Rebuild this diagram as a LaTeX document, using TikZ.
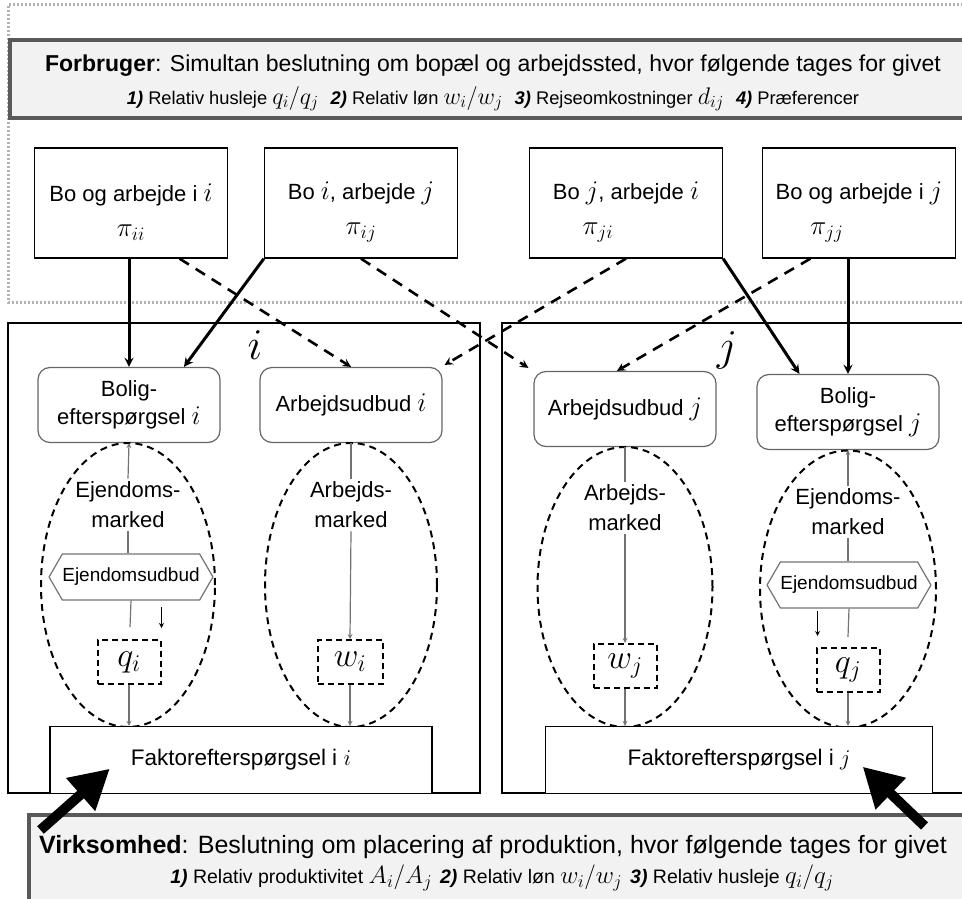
\RequirePackage{fix-cm}
\documentclass[tikz,border=0pt]{standalone}
\usepackage{fontspec}
\setmainfont{Liberation Sans}
\usetikzlibrary{calc,positioning,shapes,arrows}
\DeclareMathSizes{22}{27}{19}{14}
\DeclareMathSizes{26}{34}{24}{17}
\DeclareMathSizes{18.3}{24}{17}{12}
\DeclareMathSizes{19.5}{25}{18}{13}
\tikzstyle{choice}=[shape=rectangle, draw, line width=1.3pt, minimum width=193pt, minimum height=110pt, inner sep=0pt]
\tikzstyle{choicetxt}=[align=center, inner sep=0pt, font=\fontsize{22}{35}\selectfont]
\tikzstyle{side}=[shape=rectangle, rounded corners=12pt, draw=black!60, line width=1.2pt, minimum width=182pt, minimum height=75pt, inner sep=0pt, align=center, font=\fontsize{22}{28}\selectfont]
\tikzstyle{mkt}=[shape=ellipse, draw, dash pattern=on 7pt off 5pt, line width=2pt, inner sep=0pt]
\tikzstyle{mkttxt}=[align=center, inner sep=3pt, font=\fontsize{22}{30}\selectfont]
\tikzstyle{supply}=[shape=signal, signal to=west and east, signal pointer angle=120, draw=black!55, line width=1.2pt, fill=white, minimum width=162pt, minimum height=46pt, inner sep=0pt, font=\fontsize{19}{20}\selectfont]
\tikzstyle{price}=[shape=rectangle, draw, dash pattern=on 6pt off 4pt, line width=2pt, minimum width=63pt, minimum height=44pt, inner sep=0pt, font=\fontsize{26}{26}\selectfont]
\tikzstyle{firm}=[shape=rectangle, draw, line width=1.3pt, fill=white, minimum height=67pt, inner sep=0pt, font=\fontsize{22.5}{26}\selectfont]
\tikzstyle{region}=[shape=rectangle, draw, line width=1.3pt, minimum height=470pt, inner sep=0pt]
\tikzstyle{given}=[shape=rectangle, draw=black!65, fill=black!5, line width=4pt, inner sep=0pt]
\tikzstyle{mktln}=[draw=black!55, line width=1.2pt]
\tikzstyle{live}=[line width=3pt, -stealth]
\tikzstyle{alt}=[line width=2.6pt, dash pattern=on 11pt off 8pt, -stealth]

\begin{document}
\begin{tikzpicture}[x=1pt,y=-1pt]
\useasboundingbox (0,0) rectangle (962,899);

% forbruger
\draw[gray!60, line width=3pt, dash pattern=on 2pt off 2pt] (975,5) -- (8,5) -- (8,302) -- (975,302);
\node (forb) [given, minimum width=965pt, minimum height=78pt] at (492,79) {};
\node (forbtxt) [align=center] at (493,83)
  {{\fontsize{23}{23}\selectfont\textbf{Forbruger}: Simultan beslutning om bopæl og arbejdssted, hvor følgende tages for givet}\\[9pt]
   {\fontsize{18.3}{19}\selectfont\textbf{\textit{1)}} Relativ husleje $q_i/q_j$\hspace{12pt}\textbf{\textit{2)}} Relativ løn $w_i/w_j$\hspace{12pt}\textbf{\textit{3)}} Rejseomkostninger $d_{ij}$\hspace{12pt}\textbf{\textit{4)}} Præferencer}};

\node (ii) [choice] at (131,203) {};
\node (ij) [choice] at (361,203) {};
\node (ji) [choice] at (626,203) {};
\node (jj) [choice] at (859,203) {};
\node (iit) [choicetxt] at (131,212) {Bo og arbejde i $i$\\$\pi_{ii}$};
\node (ijt) [choicetxt] at (361,212) {Bo $i$, arbejde $j$\\$\pi_{ij}$};
\node (jit) [choicetxt] at (626,212) {Bo $j$, arbejde $i$\\\hspace*{-56pt}$\pi_{ji}$};
\node (jjt) [choicetxt] at (859,212) {Bo og arbejde i $j$\\\hspace*{-64pt}$\pi_{jj}$};

% regioner
\node (regi) [region, minimum width=472pt] at (244,558) {};
\node (regj) [region, minimum width=470pt] at (737,558) {};
\node (labi) at (255,345) {\fontsize{44}{44}\selectfont$i$};
\node (labj) at (727,350) {\fontsize{44}{44}\selectfont$j$};

\node (boli) [side] at (129,405) {Bolig-\\efterspørgsel $i$};
\node (arbi) [side] at (351,405) {Arbejdsudbud $i$};
\node (arbj) [side] at (625,409) {Arbejdsudbud $j$};
\node (bolj) [side] at (848,412) {Bolig-\\efterspørgsel $j$};

\node (ejmi) [mkt, minimum width=174pt, minimum height=284pt] at (128,585) {};
\node (armi) [mkt, minimum width=172pt, minimum height=284pt] at (351,585) {};
\node (armj) [mkt, minimum width=175pt, minimum height=280pt] at (625,587) {};
\node (ejmj) [mkt, minimum width=176pt, minimum height=277pt] at (848,589) {};

\node (ejti) [mkttxt] at (128,505) {Ejendoms-\\marked};
\node (arti) [mkttxt] at (351,505) {Arbejds-\\marked};
\node (artj) [mkttxt] at (625,508) {Arbejds-\\marked};
\node (ejtj) [mkttxt] at (848,512) {Ejendoms-\\marked};

\node (hexi) [supply] at (131,577) {Ejendomsudbud};
\node (hexj) [supply] at (849,585) {Ejendomsudbud};

\node (qi) [price] at (129,662) {$q_i$};
\node (wi) [price, minimum width=65pt] at (350,662) {$w_i$};
\node (wj) [price] at (625,666) {$w_j$};
\node (qj) [price] at (848,670) {$q_j$};

\node (fi) [firm, minimum width=382pt] at (241,760) {Faktorefterspørgsel i $i$};
\node (fj) [firm, minimum width=387pt] at (739,760) {Faktorefterspørgsel i $j$};

% virksomhed
\node (virk) [given, minimum width=947pt, minimum height=90pt] at (502,860) {};
\node (virktxt) [align=center] at (493,863)
  {{\fontsize{25}{25}\selectfont\textbf{Virksomhed}: Beslutning om placering af produktion, hvor følgende tages for givet}\\[5pt]
   {\fontsize{19.5}{20}\selectfont\hspace*{18pt}\textbf{\textit{1)}} Relativ produktivitet $A_i/A_j$\hspace{8pt}\textbf{\textit{2)}} Relativ løn $w_i/w_j$\hspace{8pt}\textbf{\textit{3)}} Relativ husleje $q_i/q_j$}};

% valg -> regioner
\draw[live] (boli.north |- ii.south) -- (boli.north);
\draw[live] (ij.south west) -- ($(boli.north)!0.6!(boli.north east)$);
\draw[alt] ($(ii.south)!0.5!(ii.south east)$) -- (arbi.north);
\draw[alt] (ij.south) -- ($(arbj.north west)+(-5,-3)$);
\draw[alt] (ji.south) -- ($(arbi.north east)+(2,-2)$);
\draw[live] (ji.south east) -- ($(bolj.north)!0.53!(bolj.north west)$);
\draw[alt] ($(jj.south west)!0.5!(jj.south)$) -- ($(arbj.north)+(-8,0)$);
\draw[live] (bolj.north |- jj.south) -- (bolj.north);

% markeder i
\draw[mktln, -stealth] (ejti.north) -- (boli.south);
\draw[mktln] (ejti.south) -- (ejti.south |- hexi.north);
\draw[mktln] (hexi.south) -- ($(qi.north)+(1,-12)$);
\draw[-stealth, line width=1.2pt] ($(qi.north east)+(0,-32)$) -- ($(qi.north east)+(0,-11)$);
\draw[mktln, -stealth] (qi.south) -- (qi.south |- fi.north);
\draw[mktln] (arbi.south) -- (arti.north);
\draw[mktln, -stealth] (arti.south) -- (wi.north);
\draw[mktln, -stealth] (wi.south) -- (wi.south |- fi.north);

% markeder j
\draw[mktln] (arbj.south) -- (artj.north);
\draw[mktln, -stealth] (artj.south) -- (wj.north);
\draw[mktln, -stealth] (wj.south) -- (wj.south |- fj.north);
\draw[mktln, -stealth] (ejtj.north) -- (bolj.south);
\draw[mktln] (ejtj.south) -- (ejtj.south |- hexj.north);
\draw[mktln] (hexj.south) -- ($(qj.north)+(0,-10)$);
\draw[-stealth, line width=1.2pt] ($(qj.north west)+(2,-36)$) -- ($(qj.north west)+(2,-11)$);
\draw[mktln, -stealth] (qj.south) -- (qj.south |- fj.north);

% virksomhed -> faktorefterspoergsel
\coordinate (vi) at ($(virk.north west)+(14,17)$);
\coordinate (vj) at ($(virk.north east)+(-53,13)$);
\draw[line width=10pt, -triangle 60] (vi) -- ($(fi.south west)+(60,-25)$);
\draw[line width=10pt, -triangle 60] (vj) -- ($(fj.south east)+(-70,-27)$);

\end{tikzpicture}
\end{document}
